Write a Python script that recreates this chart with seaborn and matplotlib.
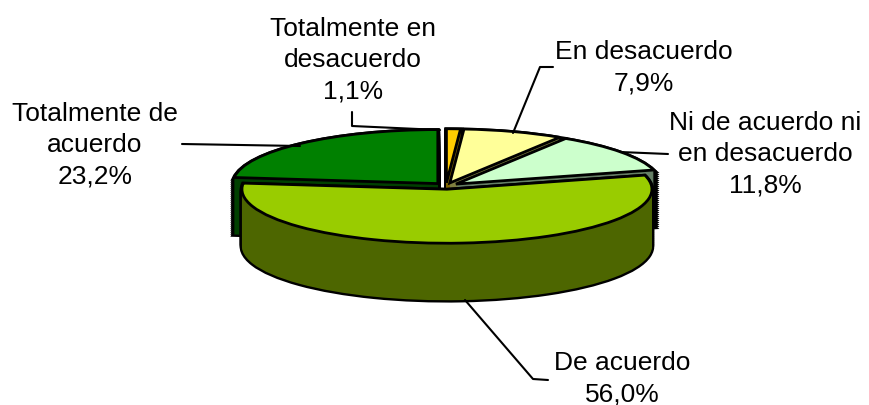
import matplotlib
matplotlib.use("Agg")
import matplotlib.pyplot as plt
import seaborn as sns

sns.set_theme(style="white")
plt.rcParams['font.family'] = ['Liberation Sans', 'DejaVu Sans']

# clockwise from 12 o'clock
labels = ["Totalmente en\ndesacuerdo\n1,1%", "En desacuerdo\n7,9%", "Ni de acuerdo ni\nen desacuerdo\n11,8%",
          "De acuerdo\n56,0%", "Totalmente de\nacuerdo\n23,2%"]
values = [1.1, 7.9, 11.8, 56.0, 23.2]
top_colors = ["#FFCC00", "#FFFF99", "#CCFFCC", "#99CC00", "#008000"]
wall_colors = ["#806600", "#808040", "#668066", "#4D6600", "#004000"]

# pie geometry in pixels
cx, cy, rx, ry = 446, 187, 205, 54
depth = 57
explode = [0.06] * len(values)
hidden = (0, 0, 0, 0)


def layer(ax, offset, colors, visible, lw):
    cols = [c if v else hidden for c, v in zip(colors, visible)]
    edge = "black" if lw > 0 else "none"
    wedges, _ = ax.pie(values, colors=cols, explode=explode, startangle=90, counterclock=False,
                       center=(0, -offset / ry), radius=1,
                       wedgeprops={"linewidth": lw, "edgecolor": edge})
    for w, v in zip(wedges, visible):
        w.set_visible(v)


fig = plt.figure(figsize=(8.7, 4.06), dpi=100)
ax = fig.add_axes([0, 0, 1, 1])

back = [i != 3 for i in range(len(values))]
front = [i == 3 for i in range(len(values))]

for group in (back, front):
    # outline first, then fill on top so only the silhouette stays black
    for d in range(depth, 0, -2):
        layer(ax, d, wall_colors, group, 3.4)
    for d in range(depth, 0, -1):
        layer(ax, d, wall_colors, group, 0)
    layer(ax, 0, top_colors, group, 2.0)

ax.set_aspect('auto')
ax.set_xlim(-cx / rx, (870 - cx) / rx)
ax.set_ylim((cy - 406) / ry, cy / ry)
ax.axis('off')

# labels and leader lines, in pixels
over = fig.add_axes([0, 0, 1, 1])
over.set_xlim(0, 870)
over.set_ylim(406, 0)
over.axis('off')
over.patch.set_alpha(0)

label_pos = [(353, 60), (644, 68), (765, 154), (622, 379), (95, 145)]
for txt, (x, y) in zip(labels, label_pos):
    over.text(x, y, txt, ha='center', va='center', fontsize=19, color='black', linespacing=1.38)

leaders = [
    ([352, 352, 440], [113, 127, 131]),
    ([553, 540, 513], [68, 68, 134]),
    ([668, 620], [155, 153]),
    ([182, 300], [145, 147]),
    ([548, 533, 465], [381, 380, 301]),
]
for xs, ys in leaders:
    over.plot(xs, ys, color='black', lw=1.5)

fig.savefig("out.png", dpi=100)
